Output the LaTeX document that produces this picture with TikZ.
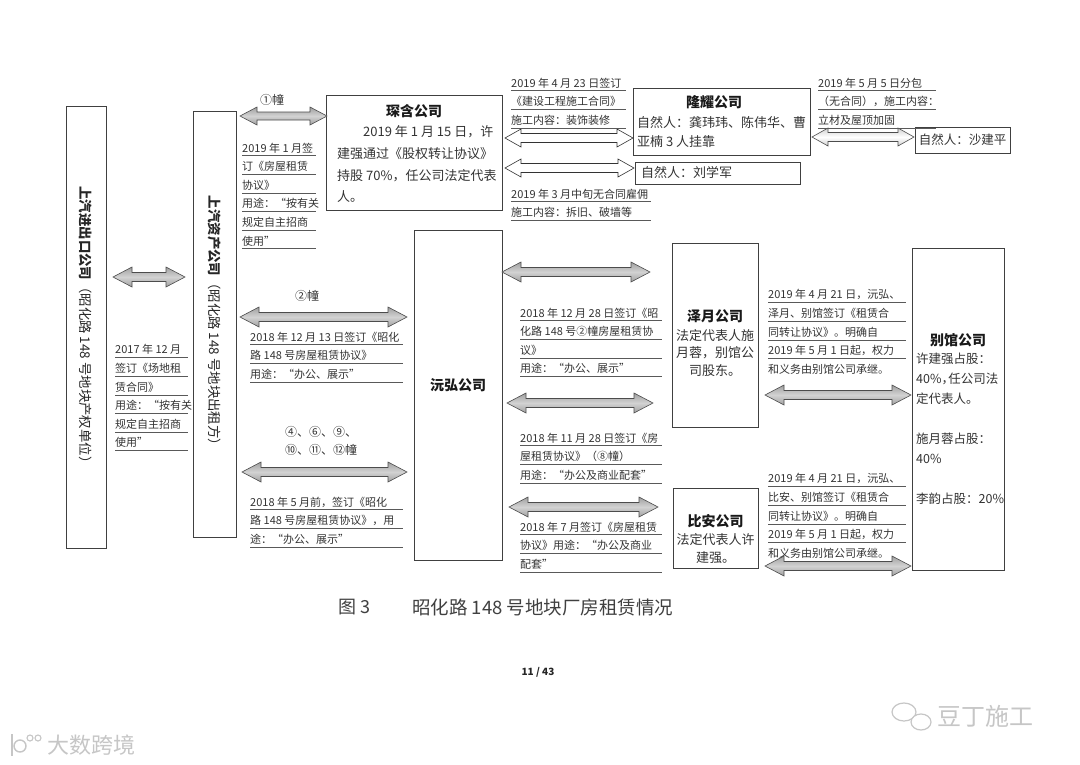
\documentclass[tikz,border=0pt]{standalone}
\usepackage{fontspec}
\setmainfont{Noto Sans CJK SC}
\usetikzlibrary{calc}
\tikzset{
 box/.style={draw=black!75, line width=0.9pt, inner sep=0pt},
 ttl/.style={inner sep=0pt, font=\fontsize{14}{16}\selectfont\bfseries, text=black!90},
 body/.style={inner sep=0pt, text=black!80, font=\fontsize{13}{#1}\selectfont},
 lbl/.style={anchor=north west, inner sep=0pt, align=left, execute at begin node={\def\ulw{#1pt}}, font=\fontsize{11}{18.6}\selectfont, text=black!80},
 vtext/.style={rotate=-90, inner sep=0pt, font=\fontsize{13.4}{16}\selectfont, text=black!85},
 garrow/.style={draw=black!70, line width=0.6pt, top color=gray!75, bottom color=gray!75, middle color=gray!35},
 warrow/.style={draw=black!80, line width=0.6pt, fill=white},
 larrow/.style={draw=black!70, line width=0.6pt, top color=gray!35, bottom color=gray!35, middle color=white},
 wm/.style={inner sep=0pt, text=gray!45},
}
\def\ulw{70pt}
\newcommand\ul[1]{\rlap{\smash{\color{black!65}\rule[-4pt]{\ulw}{0.6pt}}}#1}
\def\AL{19pt}\def\AH{10pt}\def\AS{4.5pt}
\newcommand\darrow[3][garrow]{%
 \draw[#1] let \p1=#2, \p2=#3 in
 (\x1,\y1) -- ({\x1+\AL},{\y1+\AH}) -- ({\x1+\AL},{\y1+\AS}) -- ({\x2-\AL},{\y1+\AS})
 -- ({\x2-\AL},{\y1+\AH}) -- (\x2,\y1) -- ({\x2-\AL},{\y1-\AH}) -- ({\x2-\AL},{\y1-\AS})
 -- ({\x1+\AL},{\y1-\AS}) -- ({\x1+\AL},{\y1-\AH}) -- cycle;}
\begin{document}
\begin{tikzpicture}[x=1pt,y=-1pt]
\useasboundingbox[fill=white] (0,0) rectangle (1080,764);

% ---- boxes
\node[box, minimum width=40, minimum height=442] (b1) at (86,327) {};
\node[vtext] (t1) at (86,328) {\textbf{上汽进出口公司}（昭化路 148 号地块产权单位）};
\node[box, minimum width=43, minimum height=426] (b2) at (214.5,324) {};
\node[vtext] (t2) at (214.5,324) {\textbf{上汽资产公司}（昭化路 148 号地块出租方）};

\node[box, minimum width=176, minimum height=115] (b3) at (414,152.5) {};
\node[ttl] (b3t) at (414,111) {琛含公司};
\node[body=21.7, anchor=north west, align=left] (b3b) at (337,125.5)
 {\hspace*{2em}2019 年 1 月 15 日，许\\建强通过《股权转让协议》\\持股 70\%，任公司法定代表\\人。};

\node[box, minimum width=177, minimum height=67] (b4) at (721.5,121.5) {};
\node[ttl] (b4t) at (714,102) {隆耀公司};
\node[body=19, anchor=north west, align=left] (b4b) at (637,116.5)
 {自然人：龚玮玮、陈伟华、曹\\亚楠 3 人挂靠};

\node[box, minimum width=165, minimum height=22] (b5) at (717.5,173) {};
\node[body=14, anchor=west] (b5b) at (641,173) {自然人：刘学军};

\node[box, minimum width=95, minimum height=26] (b6) at (962.5,140) {};
\node[body=14, font=\fontsize{12.5}{14}\selectfont] (b6b) at (962.5,140) {自然人：沙建平};

\node[box, minimum width=88, minimum height=330] (b7) at (458,395) {};
\node[ttl] (b7t) at (458,385) {沅弘公司};

\node[box, minimum width=86, minimum height=184] (b8) at (715,335) {};
\node[ttl] (b8t) at (715,316) {泽月公司};
\node[body=17.5, anchor=north, align=center] (b8b) at (715,329)
 {法定代表人施\\月蓉，别馆公\\司股东。};

\node[box, minimum width=85, minimum height=80] (b9) at (715.5,528) {};
\node[ttl] (b9t) at (715.5,521) {比安公司};
\node[body=18, anchor=north, align=center] (b9b) at (715.5,533.5)
 {法定代表人许\\建强。};

\node[box, minimum width=92, minimum height=322] (b10) at (958,409) {};
\node[ttl] (b10t) at (958,340) {别馆公司};
\node[body=20, anchor=north west, align=left, font=\fontsize{12.5}{20}\selectfont] (b10b) at (916,352.5)
 {许建强占股：\\40\%\makebox[0.55em][l]{，}任公司法\\定代表人。\\[20pt]施月蓉占股：\\40\%\\[20pt]李韵占股：20\%};

% ---- arrows
\coordinate (a0l) at (113,277); \coordinate (a0r) at (185,277);
\coordinate (a1l) at (240,116); \coordinate (a1r) at (327,116);
\coordinate (a2l) at (240,317); \coordinate (a2r) at (407,317);
\coordinate (a3l) at (242,472); \coordinate (a3r) at (407,472);
\coordinate (w1l) at (505,138); \coordinate (w1r) at (633,138);
\coordinate (w2l) at (505,168); \coordinate (w2r) at (634,168);
\coordinate (w3l) at (812,137); \coordinate (w3r) at (914,137);
\coordinate (e1l) at (502,272); \coordinate (e1r) at (650,272);
\coordinate (e2l) at (507,403); \coordinate (e2r) at (653,403);
\coordinate (e3l) at (509,507); \coordinate (e3r) at (658,507);
\coordinate (r1l) at (765,395); \coordinate (r1r) at (911,395);
\coordinate (r2l) at (765,566); \coordinate (r2r) at (911,566);

\darrow{(a0l)}{(a0r)}
{\def\AL{17pt}\def\AH{9pt}\def\AS{4pt}\darrow{(a1l)}{(a1r)}}
\darrow{(a2l)}{(a2r)}
\darrow{(a3l)}{(a3r)}
{\def\AL{16pt}\def\AH{9pt}\def\AS{4.5pt}
 \darrow[warrow]{(w1l)}{(w1r)}
 \darrow[warrow]{(w2l)}{(w2r)}
 \darrow[larrow]{(w3l)}{(w3r)}}
\darrow{(e1l)}{(e1r)}
\darrow{(e2l)}{(e2r)}
\darrow{(e3l)}{(e3r)}
\darrow{(r1l)}{(r1r)}
\darrow{(r2l)}{(r2r)}

% ---- arrow labels
\node[inner sep=0, font=\fontsize{12}{14}\selectfont, text=black!80] (n1) at (272,100) {①幢};
\node[inner sep=0, font=\fontsize{12}{14}\selectfont, text=black!80] (n2) at (307,296) {②幢};
\node[inner sep=0, align=center, font=\fontsize{12}{18}\selectfont, text=black!80] (n3) at (321,441) {④、⑥、⑨、\\⑩、⑪、⑫幢};

\node[lbl=73] (la) at (115,344.5)
 {\ul{2017 年 12 月}\\\ul{签订《场地租}\\\ul{赁合同》}\\\ul{用途：“按有关}\\\ul{规定自主招商}\\\ul{使用”}};
\node[lbl=74] (lb) at (242,142.5)
 {\ul{2019 年 1 月签}\\\ul{订《房屋租赁}\\\ul{协议》}\\\ul{用途：“按有关}\\\ul{规定自主招商}\\\ul{使用”}};
\node[lbl=153] (lc) at (250,331.5)
 {\ul{2018 年 12 月 13 日签订《昭化}\\\ul{路 148 号房屋租赁协议》}\\\ul{用途：“办公、展示”}};
\node[lbl=153] (ld) at (250,496.5)
 {\ul{2018 年 5 月前，签订《昭化}\\\ul{路 148 号房屋租赁协议》，用}\\\ul{途：“办公、展示”}};
\node[lbl=115] (lt1) at (511,77.5)
 {\ul{2019 年 4 月 23 日签订}\\\ul{《建设工程施工合同》}\\\ul{施工内容：装饰装修}};
\node[lbl=140] (lt2) at (511,188.5)
 {\ul{2019 年 3 月中旬无合同雇佣}\\\ul{施工内容：拆旧、破墙等}};
\node[lbl=118] (lt3) at (818,77.5)
 {\ul{2019 年 5 月 5 日分包}\\\ul{（无合同），施工内容：}\\\ul{立材及屋顶加固}};
\node[lbl=142] (le) at (520,307.5)
 {\ul{2018 年 12 月 28 日签订《昭}\\\ul{化路 148 号②幢房屋租赁协}\\\ul{议》}\\\ul{用途：“办公、展示”}};
\node[lbl=142] (lf) at (520,432.5)
 {\ul{2018 年 11 月 28 日签订《房}\\\ul{屋租赁协议》（⑧幢）}\\\ul{用途：“办公及商业配套”}};
\node[lbl=142] (lg) at (520,521.5)
 {\ul{2018 年 7 月签订《房屋租赁}\\\ul{协议》用途：“办公及商业}\\\ul{配套”}};
\node[lbl=138] (lh) at (768,289.5)
 {\ul{2019 年 4 月 21 日，沅弘、}\\\ul{泽月、别馆签订《租赁合}\\\ul{同转让协议》。明确自}\\\ul{2019 年 5 月 1 日起，权力}\\和义务由别馆公司承继。};
\node[lbl=138] (li) at (768,473.5)
 {\ul{2019 年 4 月 21 日，沅弘、}\\\ul{比安、别馆签订《租赁合}\\\ul{同转让协议》。明确自}\\\ul{2019 年 5 月 1 日起，权力}\\和义务由别馆公司承继。};

% ---- caption and page
\node[inner sep=0, anchor=west, font=\fontsize{18}{20}\selectfont, text=black!75] (cap1) at (338,607) {图 3};
\node[inner sep=0, anchor=west, font=\fontsize{18.5}{20}\selectfont, text=black!75] (cap2) at (412,607) {昭化路 148 号地块厂房租赁情况};
\node[inner sep=0, font=\fontsize{10}{12}\selectfont\bfseries, text=black!85] (pg) at (538,672) {11 / 43};

% ---- watermarks
\draw[gray!45, line width=1.2pt] (904,712) ellipse [x radius=12, y radius=9];
\draw[gray!45, line width=1.2pt, fill=white] (921,722) ellipse [x radius=10, y radius=8];
\node[wm, anchor=west, font=\fontsize{24}{26}\selectfont] (wm1) at (937,716) {豆丁施工};
\draw[gray!45, line width=1.6pt] (12,734) -- (12,756);
\draw[gray!45, line width=1.4pt] (20,746) circle [radius=6];
\draw[gray!45, line width=1.1pt] (30,738) circle [radius=3] (38,738) circle [radius=3];
\node[wm, anchor=west, font=\fontsize{22}{24}\selectfont] (wm2) at (47,745) {大数跨境};
\end{tikzpicture}
\end{document}
